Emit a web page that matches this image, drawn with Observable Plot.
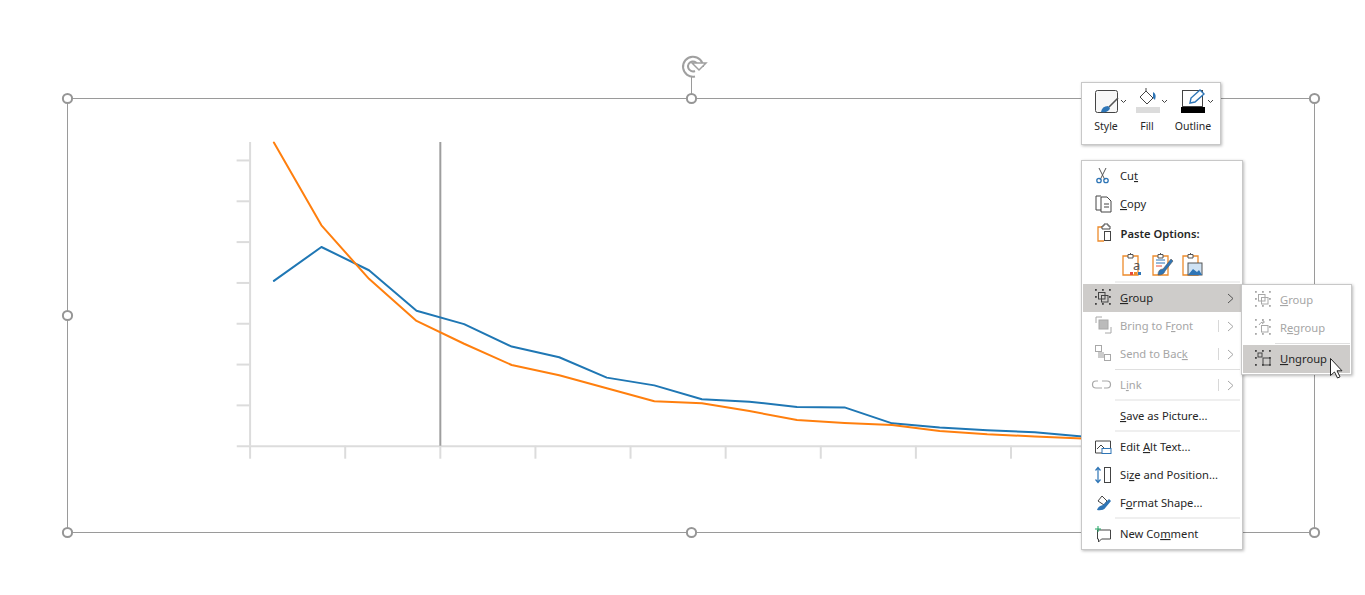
<!DOCTYPE html>
<html>
<head>
<meta charset="utf-8">
<style>
html,body{margin:0;padding:0;background:#fff;width:1365px;height:595px;overflow:hidden}
#wrap{position:relative;width:1365px;height:595px}
#wrap svg{position:absolute;left:0;top:0}
#chrome text{font-family:"Noto Sans",sans-serif;font-size:11.2px;fill:#262626}
</style>
<script src="https://cdn.jsdelivr.net/npm/d3@7"></script>
<script src="https://cdn.jsdelivr.net/npm/@observablehq/plot@0.6"></script>
</head>
<body>
<div id="wrap"></div>
<script>
// Chart values
const blueValues = [4.05,4.88,4.31,3.32,2.99,2.44,2.18,1.68,1.49,1.15,1.09,0.96,0.95,0.56,0.46,0.39,0.34,0.24];
const orangeValues = [7.44,5.41,4.10,3.07,2.51,1.99,1.74,1.42,1.10,1.05,0.86,0.64,0.57,0.52,0.37,0.29,0.24,0.19];
const xTicks = [0,2,4,6,8,10,12,14,16];
const yTicks = [1,2,3,4,5,6,7];
const markerX = 4;
const GRID = "#dcdcdc";

// Menu text (label, underlined letter index, baseline y, disabled)
const menuItems = [
  ["Cut",2,180,false],["Copy",0,208,false],["Group",0,302,false],
  ["Bring to Front",10,330,true],["Send to Back",11,358,true],["Link",1,389,true],
  ["Save as Picture...",0,420,false],["Edit Alt Text...",5,451,false],
  ["Size and Position...",2,479,false],["Format Shape...",1,507,false],["New Comment",6,538,false]
];
const subItems = [["Group",0,304,true],["Regroup",1,332,true],["Ungroup",0,363,false]];
const toolbarLabels = [["Style",1106],["Fill",1147],["Outline",1193]];
const menuSeparators = [[1115,282],[1115,369.5],[1115,400],[1115,431],[1115,518]];
const handles = [[67.5,98.5],[691.5,98.5],[1314.5,98.5],[67.5,315.5],[67.5,532.5],[691.5,532.5],[1314.5,532.5]];

const pts = s => s.map((v,i)=>({x:i+0.5,y:v}));
const chart = Plot.plot({
  width:1365,height:595,
  marginLeft:249.6,marginRight:259.4,marginTop:142,marginBottom:149.3,
  x:{domain:[0,18]},y:{domain:[0,7.44]},
  style:{background:"transparent"},
  marks:[
    Plot.axisX({ticks:xTicks,tickSize:13,tickFormat:()=>"",stroke:GRID,strokeWidth:2,strokeOpacity:1,label:null}),
    Plot.axisY({ticks:yTicks,tickSize:13,tickFormat:()=>"",stroke:GRID,strokeWidth:2,strokeOpacity:1,label:null}),
    Plot.ruleY([0],{x1:-0.27,x2:18,stroke:GRID,strokeWidth:2}),
    Plot.ruleX([0],{y1:0,y2:7.44,stroke:GRID,strokeWidth:2}),
    Plot.ruleX([markerX],{y1:0,y2:7.44,stroke:"#9e9e9e",strokeWidth:2}),
    Plot.line(pts(blueValues),{x:"x",y:"y",stroke:"#1f77b4",strokeWidth:2}),
    Plot.line(pts(orangeValues),{x:"x",y:"y",stroke:"#ff7f0e",strokeWidth:2})
  ]
});
document.getElementById("wrap").appendChild(chart);

function label(t,u,x,y,cls){
  const c = cls||"#262626";
  if(u<0) return `<text x="${x}" y="${y}" style="fill:${c}">${t}</text>`;
  return `<text x="${x}" y="${y}" style="fill:${c}">${t.slice(0,u)}<tspan text-decoration="underline">${t[u]}</tspan>${t.slice(u+1)}</text>`;
}
const B="#2e75b6",O="#ed8b2b",D="#555",G="#a8a8a8";
function groupIcon(x,y,c,mode){
  const bits=[[0,0],[7,0],[14,0],[0,7],[0,14],[7,14],[14,14],[14,7]];
  const on = mode==="group"||mode==="regroup" ? bits : bits.filter((b,i)=>i%2===0||true);
  let s=on.map(b=>`<rect x="${x+b[0]}" y="${y+b[1]}" width="1.8" height="1.8" fill="${c}"/>`).join("");
  if(mode==="group") s+=`<rect x="${x+3.5}" y="${y+3.5}" width="6.5" height="6.5" fill="none" stroke="${c}"/><rect x="${x+6.5}" y="${y+6.5}" width="6.5" height="6.5" fill="none" stroke="${c}"/>`;
  if(mode==="regroup") s+=`<path d="M${x+4} ${y+6}a5 5 0 0 1 5 -3M${x+7} ${y+1}l2.5 2l-2.5 2" fill="none" stroke="${c}"/><rect x="${x+6.5}" y="${y+6.5}" width="6.5" height="6.5" fill="none" stroke="${c}"/>`;
  if(mode==="ungroup") s+=`<rect x="${x+3}" y="${y+3}" width="4" height="4" fill="none" stroke="${c}"/><rect x="${x+8}" y="${y+8}" width="7" height="7" fill="none" stroke="${c}"/>`;
  return s;
}
function clip(x,y,w,h,extra){
  return `<path d="M${x+5} ${y+3}H${x}V${y+h}H${x+w}V${y+3}H${x+w-5}" fill="#fff" stroke="${O}" stroke-width="1.3"/>
  <path d="M${x+5} ${y+5}V${y+1.5}H${x+7.5}V${y}H${x+w-7.5}V${y+1.5}H${x+w-5}V${y+5}Z" fill="#fff" stroke="${D}"/>`+(extra||"");
}
const S=[];
// selection frame, rotation handle, handles
S.push(`<rect x="67.5" y="98.5" width="1247" height="434" fill="none" stroke="#9a9a9a" stroke-width="1"/>`);
S.push(`<line x1="691.5" y1="76" x2="691.5" y2="98" stroke="#9a9a9a"/>`);
S.push(`<path d="M703 67a10 10 0 1 0 -8 9.5" fill="none" stroke="#a0a0a0" stroke-width="2"/><path d="M698 66a5 5 0 1 0 -3 5" fill="none" stroke="#a0a0a0" stroke-width="2"/><path d="M692 63l7 7l7 -7z" fill="#fff" stroke="#a0a0a0" stroke-width="1.5"/>`);
handles.forEach(h=>S.push(`<circle cx="${h[0]}" cy="${h[1]}" r="4.6" fill="#fff" stroke="#969696" stroke-width="2"/>`));
const shadow='style="filter:drop-shadow(1px 1px 1.5px rgba(0,0,0,.28))"';
// mini toolbar
S.push(`<rect x="1081.5" y="82.5" width="139" height="62" fill="#fff" stroke="#c8c8c8" ${shadow}/>`);
S.push(`<rect x="1095.5" y="90.5" width="22" height="22" rx="2" fill="#f7f7f7" stroke="#444"/><path d="M1118 98l-9 9" stroke="${D}" stroke-width="1.6"/><path d="M1101 112q1 -6 7 -6l2 2q-1 5 -9 4z" fill="${B}"/><path d="M1121 100l2.5 2.5l2.5 -2.5" fill="none" stroke="#444"/>`);
S.push(`<path d="M1140 97l6 -6l7 7l-6 6z" fill="#fff" stroke="#444"/><path d="M1146 91v-3" stroke="#444"/><path d="M1153 92q4 2 2 8l-2 -2z" fill="${B}"/><rect x="1136" y="107" width="24" height="6" fill="#dcdcdc"/><path d="M1162 100l2.5 2.5l2.5 -2.5" fill="none" stroke="#444"/>`);
S.push(`<rect x="1182.5" y="90.5" width="20" height="16" fill="#fff" stroke="#444"/><path d="M1190 103l1 -5l9 -8l4 4l-9 8z" fill="#fff" stroke="${B}" stroke-width="1.4"/><rect x="1181" y="107" width="24" height="6" fill="#000"/><path d="M1208 100l2.5 2.5l2.5 -2.5" fill="none" stroke="#444"/>`);
toolbarLabels.forEach(t=>S.push(`<text x="${t[1]}" y="130" text-anchor="middle" style="font-size:10.5px">${t[0]}</text>`));
// context menu
S.push(`<rect x="1081.5" y="160.5" width="161" height="389" fill="#fff" stroke="#c8c8c8" ${shadow}/>`);
S.push(`<rect x="1083" y="284" width="158" height="28" fill="#cecccA"/>`);
menuSeparators.forEach(s=>S.push(`<line x1="${s[0]}" x2="1240" y1="${s[1]}" y2="${s[1]}" stroke="#dfdfdf"/>`));
menuItems.forEach(m=>S.push(label(m[0],m[1],1120,m[2],m[3]?"#a6a6a6":"#262626")));
S.push(`<text x="1120.5" y="238" style="font-weight:600">Paste Options:</text>`);
// menu icons
S.push(`<path d="M1099 168l6 12M1106 168l-6 12" stroke="#555"/><circle cx="1099" cy="180.5" r="2.2" fill="none" stroke="${B}" stroke-width="1.3"/><circle cx="1106" cy="180.5" r="2.2" fill="none" stroke="${B}" stroke-width="1.3"/>`);
S.push(`<path d="M1101 196h-5v14h5M1101 197h6l4 4v11h-10z" fill="#fff" stroke="#444"/><path d="M1104 204h5M1104 207h5" stroke="#444"/>`);
S.push(`<path d="M1102 227h-4v14h6" fill="none" stroke="${O}" stroke-width="1.3"/><path d="M1102 229v-3h2v-2h4v2h2v3z" fill="#fff" stroke="#444"/><rect x="1104.5" y="231.5" width="6" height="9" fill="#fff" stroke="#444"/>`);
[1122,1152,1182].forEach((x,i)=>{
  let e="";
  if(i===0) e=`<text x="${x+11}" y="${270}" style="font-size:13px;fill:#555">a</text><rect x="${x+8}" y="272" width="3" height="3" fill="#e74c3c"/><rect x="${x+12}" y="272" width="3" height="3" fill="${O}"/><rect x="${x+16}" y="272" width="3" height="3" fill="${B}"/>`;
  if(i===1) e=`<path d="M${x+4} ${260}h9M${x+4} ${263}h9" stroke="${B}"/><path d="M${x+4} ${266}h6" stroke="#e74c3c"/><path d="M${x+6} ${275}q0 -6 5 -6l8 -10l2 2l-8 10q-1 4 -7 4z" fill="${B}" stroke="#555" stroke-width=".6"/>`;
  if(i===2) e=`<rect x="${x+6}" y="263" width="14" height="12" fill="#cfe2f3" stroke="#555"/><path d="M${x+6} 275l5 -6l4 3l2 -2l3 5z" fill="${B}"/>`;
  S.push(clip(x+1,253,15,22,e));
});
S.push(groupIcon(1095,289,"#444","group"));
S.push(`<rect x="1099" y="320" width="9" height="9" fill="#bbb" stroke="${G}"/><path d="M1096 323v-6h6M1111 327v6h-6" fill="none" stroke="${G}"/>`);
S.push(`<rect x="1095.5" y="345.5" width="6" height="6" fill="#fff" stroke="${G}"/><rect x="1104.5" y="354.5" width="6" height="6" fill="#fff" stroke="${G}"/><rect x="1098" y="352" width="6" height="6" fill="#ccc"/>`);
S.push(`<path d="M1100 381h-2a3.5 3.5 0 0 0 0 7h6M1104 381h5a3.5 3.5 0 0 1 0 7h-3" fill="none" stroke="${G}" stroke-width="1.2" transform="translate(-2,0)"/>`);
S.push(`<path d="M1095.5 441v12h7v-3h8v-9z" fill="#fff" stroke="#444"/><path d="M1097 449l4 -4l3 3" fill="none" stroke="#444"/><rect x="1102" y="448.5" width="9" height="5" fill="#fff" stroke="${B}"/>`);
S.push(`<path d="M1098 468v14M1095.5 470.5l2.5 -3l2.5 3M1095.5 479.5l2.5 3l2.5 -3" fill="none" stroke="${B}" stroke-width="1.2"/><rect x="1104.5" y="467.5" width="6" height="15" fill="#fff" stroke="#444"/>`);
S.push(`<path d="M1098 501l4 -5l5 5l-3 4z" fill="#fff" stroke="#444"/><path d="M1109 499l-6 6q-5 1 -6 5q7 1 9 -3l5 -6z" fill="${B}"/>`);
S.push(`<path d="M1097.5 530h13v9h-9l-3 3v-3h-1z" fill="#fff" stroke="#444"/><path d="M1098 526v6M1095 529h6" stroke="#1fa463"/>`);
[298,326,354,385].forEach((y,i)=>S.push(`<path d="M1228 ${y-4}l5 4.5l-5 4.5" fill="none" stroke="${i===0?'#555':'#a6a6a6'}"/>`));
[326,354,385].forEach(y=>S.push(`<line x1="1218.5" x2="1218.5" y1="${y-6}" y2="${y+6}" stroke="#d8d8d8"/>`));
// submenu
S.push(`<rect x="1241.5" y="284.5" width="110" height="90" fill="#fff" stroke="#c8c8c8" ${shadow}/>`);
S.push(`<line x1="1275" x2="1350" y1="343.5" y2="343.5" stroke="#dfdfdf"/>`);
S.push(`<rect x="1243" y="345" width="107" height="28" fill="#cecccA"/>`);
subItems.forEach(m=>S.push(label(m[0],m[1],1280,m[2],m[3]?"#a6a6a6":"#262626")));
S.push(groupIcon(1255,291,G,"group"));
S.push(groupIcon(1255,319,G,"regroup"));
S.push(groupIcon(1255,350,"#444","ungroup"));
S.push(`<path d="M1330.5 358.5v17l4 -3.5l3 6l2.5 -1.2l-3 -6h5z" fill="#fff" stroke="#222"/>`);

const ns = "http://www.w3.org/2000/svg";
const overlay = document.createElementNS(ns,"svg");
overlay.setAttribute("id","chrome");
overlay.setAttribute("width",1365);
overlay.setAttribute("height",595);
overlay.innerHTML = S.join("");
document.getElementById("wrap").appendChild(overlay);
</script>
</body>
</html>
